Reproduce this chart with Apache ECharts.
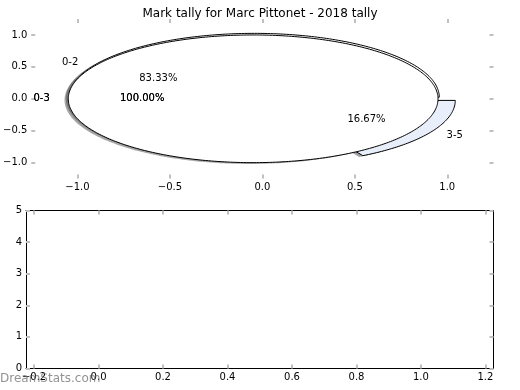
<!DOCTYPE html>
<html><head><meta charset="utf-8">
<script src="https://cdn.jsdelivr.net/npm/echarts@6/dist/echarts.min.js"></script>
<style>html,body{margin:0;padding:0;background:#fff}#c{width:520px;height:390px}</style>
</head><body><div id="c"></div>
<script>
// ---- data ----
const chartTitle = 'Mark tally for Marc Pittonet - 2018 tally';
const pieALabels = ['0-2', '3-5'];
const pieAValues = [5, 1];
const pieBLabels = ['0-3'];
const pieBValues = [1];
const pieTicks = [-1.0, -0.5, 0.0, 0.5, 1.0];
const lowerXTicks = [-0.2, 0.0, 0.2, 0.4, 0.6, 0.8, 1.0, 1.2];
const lowerYTicks = [0, 1, 2, 3, 4, 5];
const watermark = 'DreamStats.com';

// ---- style ----
const FONT = 'DejaVu Sans';
const pieAColors = [[255,255,255],[232,238,250]];
const pieBColors = [[255,255,255]];
const EXPLODE = 0.05;
const TICK_COLOR = '#c0c0c0';

function buildPie(labels, values, colors, strikes) {
  const total = values.reduce((a,b)=>a+b,0);
  let theta = 0;
  return values.map((v,i)=>{
    const t1 = theta, t2 = theta + 360*v/total; theta = t2;
    const mid = (t1+t2)/2*Math.PI/180;
    return {label: labels[i], pct: (100*v/total).toFixed(2)+'%', t1, t2, strikes,
      cx: EXPLODE*Math.cos(mid), cy: EXPLODE*Math.sin(mid), mid, rgb: colors[i%colors.length]};
  });
}
const pieA = buildPie(pieALabels, pieAValues, pieAColors, 1);
const pieB = buildPie(pieBLabels, pieBValues, pieBColors, 2);
const allW = pieA.concat(pieB);

const shapes = [];
allW.forEach(w => {
  const c = w.rgb.map(v=>Math.round(v*0.3));
  shapes.push({cx:w.cx-0.02, cy:w.cy-0.02, t1:w.t1, t2:w.t2, fill:'rgba('+c.join(',')+',0.5)', stroke:null});
});
allW.forEach(w => {
  shapes.push({cx:w.cx, cy:w.cy, t1:w.t1, t2:w.t2, fill:'rgb('+w.rgb.join(',')+')', stroke:'#000'});
});

const texts = [];
allW.forEach(w => {
  for (let s = 0; s < w.strikes; s++) {
    const lx = w.cx + 1.1*Math.cos(w.mid), ly = w.cy + 1.1*Math.sin(w.mid);
    texts.push({x:lx, y:ly, text:w.label, align: lx > 0 ? 'left' : 'right'});
    const px = w.cx + 0.6*Math.cos(w.mid), py = w.cy + 0.6*Math.sin(w.mid);
    texts.push({x:px, y:py, text:w.pct, align:'center'});
  }
});

function fmt1(v){ return (v < 0 ? '\u2212' : '') + Math.abs(v).toFixed(1); }
function fmt0(v){ return (v < 0 ? '\u2212' : '') + Math.abs(v).toFixed(0); }

function tick(vals){ return {show:true, inside:true, length:4, customValues: vals, lineStyle:{color:TICK_COLOR, width:2}}; }
function lbl(vals, f, show){ return {show: show, customValues: vals, formatter: f, margin: 4, color:'#000', fontSize:10, fontFamily:FONT}; }
function line(show){ return {show: show, onZero: false, lineStyle: {color: '#000', width: 1}}; }

const chart = echarts.init(document.getElementById('c'), null, {renderer:'canvas'});
chart.setOption({
  animation: false,
  backgroundColor: '#fff',
  title: {text: chartTitle, left: 'center', top: 3, textStyle: {fontSize: 12, fontWeight: 'normal', fontFamily: FONT, color: '#000'}},
  grid: [
    {left: 26, top: 19, width: 467.5, height: 159.6},
    {left: 26, top: 210.5, width: 467.5, height: 158}
  ],
  xAxis: [
    {gridIndex:0, type:'value', min:-1.25, max:1.25, position:'bottom', axisLine:line(false), axisTick:tick(pieTicks), axisLabel:lbl(pieTicks, fmt1, true), splitLine:{show:false}},
    {gridIndex:0, type:'value', min:-1.25, max:1.25, position:'top', axisLine:line(false), axisTick:tick(pieTicks), axisLabel:lbl(pieTicks, fmt1, false), splitLine:{show:false}},
    {gridIndex:1, type:'value', min:-0.225, max:1.225, position:'bottom', axisLine:line(true), axisTick:tick(lowerXTicks), axisLabel:lbl(lowerXTicks, fmt1, true), splitLine:{show:false}},
    {gridIndex:1, type:'value', min:-0.225, max:1.225, position:'top', axisLine:line(true), axisTick:tick(lowerXTicks), axisLabel:lbl(lowerXTicks, fmt1, false), splitLine:{show:false}}
  ],
  yAxis: [
    {gridIndex:0, type:'value', min:-1.25, max:1.25, position:'left', axisLine:line(false), axisTick:tick(pieTicks), axisLabel:lbl(pieTicks, fmt1, true), splitLine:{show:false}},
    {gridIndex:0, type:'value', min:-1.25, max:1.25, position:'right', axisLine:line(false), axisTick:tick(pieTicks), axisLabel:lbl(pieTicks, fmt1, false), splitLine:{show:false}},
    {gridIndex:1, type:'value', min:0, max:5, position:'left', axisLine:line(true), axisTick:tick(lowerYTicks), axisLabel:lbl(lowerYTicks, fmt0, true), splitLine:{show:false}},
    {gridIndex:1, type:'value', min:0, max:5, position:'right', axisLine:line(true), axisTick:tick(lowerYTicks), axisLabel:lbl(lowerYTicks, fmt0, false), splitLine:{show:false}}
  ],
  series: [
    {
      type: 'custom', xAxisIndex: 0, yAxisIndex: 0, silent: true, clip: false,
      data: shapes.map(s => [s.cx, s.cy]),
      renderItem: function(params, api) {
        const s = shapes[params.dataIndex];
        const pts = [];
        const full = Math.abs(s.t2 - s.t1 - 360) < 1e-9;
        if (!full) pts.push(api.coord([s.cx, s.cy]));
        const n = Math.max(4, Math.ceil(s.t2 - s.t1));
        for (let k = 0; k <= n; k++) {
          const a = (s.t1 + (s.t2 - s.t1) * k / n) * Math.PI / 180;
          pts.push(api.coord([s.cx + Math.cos(a), s.cy + Math.sin(a)]));
        }
        return {type: 'polygon', shape: {points: pts},
          style: {fill: s.fill, stroke: s.stroke || null, lineWidth: s.stroke ? 1 : 0}};
      }
    },
    {
      type: 'custom', xAxisIndex: 0, yAxisIndex: 0, silent: true, clip: false, z: 5,
      data: texts.map(t => [t.x, t.y]),
      renderItem: function(params, api) {
        const t = texts[params.dataIndex];
        const p = api.coord([t.x, t.y]);
        return {type: 'text', x: p[0], y: p[1],
          style: {text: t.text, fill: '#000', font: '10px "DejaVu Sans"', align: t.align, verticalAlign: 'middle'}};
      }
    },
    {type: 'scatter', xAxisIndex: 2, yAxisIndex: 2, data: []}
  ],
  graphic: [
    {type: 'text', x: 0, y: 378.5, z: 100,
      style: {text: watermark, fill: 'rgba(110,110,110,0.75)', font: '12px "DejaVu Sans"', align: 'left', verticalAlign: 'middle'}}
  ]
});
</script>
</body></html>
